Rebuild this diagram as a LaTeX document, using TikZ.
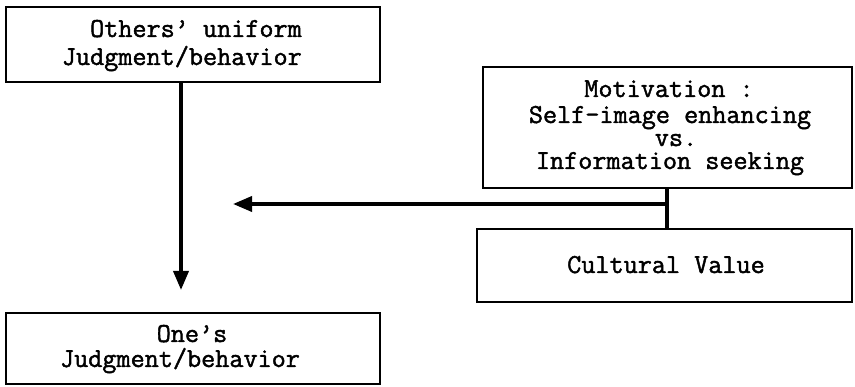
\documentclass[tikz,border=0pt]{standalone}
\usepackage{fontspec}
\setmonofont[FakeBold=1.6]{Latin Modern Mono}
\usetikzlibrary{arrows.meta}
\tikzset{
  boxstyle/.style={draw, line width=2.8pt, rectangle, inner sep=0pt},
  txt/.style={font=\ttfamily\fontsize{27.4}{29}\selectfont, inner sep=0pt, anchor=base},
  conn/.style={line width=3.6pt},
  arr/.style={line width=3.6pt, -{Triangle[length=19pt,width=15pt]}}
}
\begin{document}
\begin{tikzpicture}[x=1pt,y=1pt]
\useasboundingbox (0,0) rectangle (855,387);
% boxes
\node[boxstyle, minimum width=374pt, minimum height=75pt] (others) at (193,342.5) {};
\node[boxstyle, minimum width=374pt, minimum height=71pt] (ones) at (193,38.5) {};
\node[boxstyle, minimum width=369pt, minimum height=121pt] (mot) at (667.5,259.5) {};
\node[boxstyle, minimum width=375pt, minimum height=73pt] (cult) at (664.5,121.5) {};
% texts
\node[txt, anchor=base east] (t1) at (302,350) {Others’ uniform};
\node[txt, anchor=base east] (t2) at (302,322) {Judgment/behavior};
\node[txt] (t3) at (192,45) {One’s};
\node[txt] (t4) at (180,20) {Judgment/behavior};
\node[txt] (t5) at (669,290) {Motivation :};
\node[txt] (t6) at (670,264) {Self-image enhancing};
\node[txt] (t7) at (676,241) {vs.};
\node[txt] (t8) at (670,218) {Information seeking};
\node[txt] (t9) at (666,114) {Cultural Value};
% connectors
\coordinate (vtip) at (181,97);
\coordinate (junc) at (667,183);
\coordinate (htip) at (233,183);
\draw[arr] (others.south -| vtip) -- (vtip);
\draw[conn] (mot.south -| junc) -- (cult.north -| junc);
\draw[arr] ([xshift=1.8pt]junc) -- (htip);
\end{tikzpicture}
\end{document}
